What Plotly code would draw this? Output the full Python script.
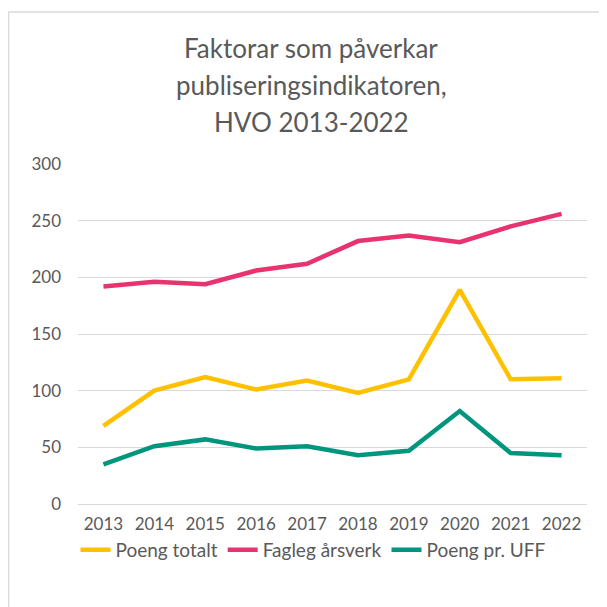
import plotly.graph_objects as go

years = ["2013", "2014", "2015", "2016", "2017", "2018", "2019", "2020", "2021", "2022"]
poeng_totalt = [69, 100, 112, 101, 109, 98, 110, 189, 110, 111]
fagleg_arsverk = [192, 196, 194, 206, 212, 232, 237, 231, 245, 256]
poeng_pr_uff = [35, 51, 57, 49, 51, 43, 47, 82, 45, 43]

title_lines = ["Faktorar som påverkar", "publiseringsindikatoren,", "HVO 2013-2022"]

FONT = "Lato"
GREY = "#595959"
OFF = 8  # page body margin

# plot area in page pixels (reference), converted to figure pixels
L, R, T, B = 78 - OFF, 587 - OFF, 164 - OFF, 504 - OFF
W, H = 607, 607

def px_x(p):
    return (p - OFF - L) / (R - L)

def px_y(p):
    return (B - (p - OFF)) / (B - T)

fig = go.Figure()
series = [
    ("Poeng totalt", poeng_totalt, "#FFC000"),
    ("Fagleg årsverk", fagleg_arsverk, "#E8336F"),
    ("Poeng pr. UFF", poeng_pr_uff, "#00957D"),
]
for name, vals, col in series:
    fig.add_trace(go.Scatter(x=years, y=vals, mode="lines", name=name,
                             line=dict(color=col, width=4.5)))

annotations = []
for txt, yc in zip(title_lines, [48, 85, 122]):
    annotations.append(dict(text=txt, xref="paper", yref="paper",
                            x=px_x(311), y=px_y(yc), xanchor="center", yanchor="middle",
                            showarrow=False, font=dict(family=FONT, size=26, color=GREY)))

shapes = [
    dict(type="line", xref="paper", yref="paper", x0=px_x(8.5), x1=px_x(8.5),
         y0=px_y(12), y1=px_y(640), line=dict(color="#D9D9D9", width=1.5)),
    dict(type="line", xref="paper", yref="paper", x0=px_x(8.5), x1=px_x(640),
         y0=px_y(12), y1=px_y(12), line=dict(color="#D9D9D9", width=1.5)),
]

fig.update_layout(
    width=W, height=H,
    margin=dict(l=L, r=W - R, t=T, b=H - B),
    paper_bgcolor="white", plot_bgcolor="white",
    font=dict(family=FONT, size=17, color=GREY),
    showlegend=True,
    legend=dict(orientation="h", xref="paper", x=px_x(313), xanchor="center",
                y=px_y(550), yanchor="middle", font=dict(size=19, color=GREY),
                itemwidth=30, tracegroupgap=0),
    annotations=annotations,
    shapes=shapes,
    xaxis=dict(type="category", range=[-0.5, 9.5], showgrid=False, showline=False,
               ticks="", tickfont=dict(size=17, color=GREY), ticklabelstandoff=8),
    yaxis=dict(range=[0, 300], dtick=50, showgrid=True, gridcolor="#D9D9D9",
               gridwidth=1, zeroline=True, zerolinecolor="#D9D9D9", zerolinewidth=1,
               showline=False, ticks="", tickfont=dict(size=17, color=GREY),
               ticklabelstandoff=16),
)

fig.write_html("out.html")
